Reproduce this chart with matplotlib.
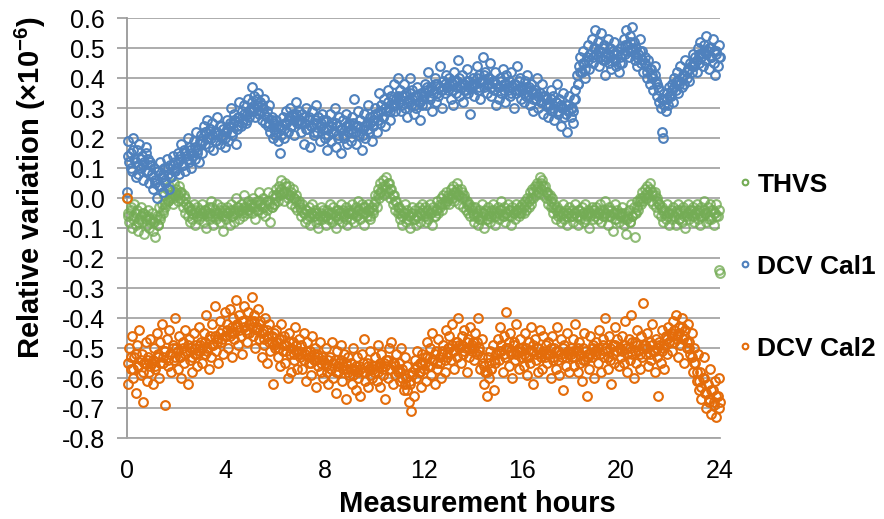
import numpy as np
import matplotlib
matplotlib.use("Agg")
import matplotlib.pyplot as plt

plt.rcParams["font.family"] = ["Liberation Sans", "DejaVu Sans"]
plt.rcParams["axes.unicode_minus"] = False
plt.rcParams["mathtext.fontset"] = "custom"
plt.rcParams["mathtext.rm"] = "Liberation Sans"
plt.rcParams["mathtext.bf"] = "Liberation Sans:bold"

# Mätvärden läses av ur bilden, 20 punkter per timme (en rad per timme)
dcv_cal1 = [
    0.02, 0.19, 0.12, 0.15, 0.09, 0.20, 0.13, 0.07, 0.16, 0.11, 0.18, 0.10, 0.14, 0.06, 0.12, 0.17, 0.09, 0.13, 0.05, 0.11,
    0.08, 0.03, 0.10, 0.06, 0.00, 0.09, 0.04, 0.12, 0.07, 0.02, 0.10, 0.05, 0.13, 0.08, 0.03, 0.11, 0.07, 0.14, 0.09, 0.12,
    0.10, 0.15, 0.08, 0.13, 0.18, 0.11, 0.16, 0.09, 0.14, 0.20, 0.12, 0.17, 0.10, 0.15, 0.19, 0.13, 0.22, 0.16, 0.12, 0.19,
    0.21, 0.15, 0.24, 0.18, 0.22, 0.26, 0.17, 0.23, 0.20, 0.25, 0.16, 0.22, 0.19, 0.27, 0.21, 0.18, 0.24, 0.20, 0.23, 0.17,
    0.22, 0.26, 0.19, 0.24, 0.30, 0.21, 0.25, 0.28, 0.18, 0.23, 0.27, 0.32, 0.24, 0.29, 0.26, 0.31, 0.25, 0.28, 0.33, 0.27,
    0.30, 0.37, 0.29, 0.34, 0.27, 0.31, 0.35, 0.28, 0.32, 0.26, 0.30, 0.33, 0.25, 0.29, 0.24, 0.31, 0.22, 0.27, 0.20, 0.25,
    0.21, 0.26, 0.19, 0.24, 0.15, 0.23, 0.27, 0.20, 0.25, 0.29, 0.22, 0.26, 0.30, 0.24, 0.28, 0.21, 0.27, 0.32, 0.25, 0.29,
    0.26, 0.22, 0.28, 0.18, 0.25, 0.30, 0.23, 0.27, 0.17, 0.24, 0.29, 0.21, 0.26, 0.31, 0.22, 0.27, 0.19, 0.25, 0.28, 0.23,
    0.20, 0.26, 0.16, 0.23, 0.28, 0.19, 0.25, 0.22, 0.30, 0.17, 0.24, 0.21, 0.27, 0.15, 0.23, 0.26, 0.20, 0.28, 0.18, 0.24,
    0.25, 0.19, 0.27, 0.22, 0.33, 0.18, 0.24, 0.29, 0.21, 0.26, 0.16, 0.23, 0.28, 0.20, 0.25, 0.31, 0.22, 0.27, 0.19, 0.24,
    0.26, 0.30, 0.22, 0.28, 0.35, 0.25, 0.31, 0.27, 0.33, 0.24, 0.29, 0.36, 0.30, 0.26, 0.34, 0.31, 0.38, 0.29, 0.33, 0.40,
    0.32, 0.36, 0.29, 0.34, 0.38, 0.30, 0.35, 0.27, 0.33, 0.40, 0.31, 0.36, 0.28, 0.34, 0.30, 0.37, 0.32, 0.26, 0.35, 0.31,
    0.34, 0.38, 0.31, 0.36, 0.42, 0.33, 0.37, 0.29, 0.35, 0.40, 0.32, 0.38, 0.34, 0.44, 0.36, 0.30, 0.39, 0.35, 0.41, 0.37,
    0.36, 0.40, 0.33, 0.38, 0.31, 0.42, 0.35, 0.39, 0.46, 0.34, 0.37, 0.41, 0.32, 0.38, 0.36, 0.43, 0.35, 0.39, 0.28, 0.37,
    0.40, 0.34, 0.38, 0.44, 0.36, 0.41, 0.33, 0.39, 0.47, 0.37, 0.42, 0.35, 0.40, 0.38, 0.45, 0.34, 0.39, 0.36, 0.42, 0.31,
    0.37, 0.33, 0.40, 0.35, 0.43, 0.38, 0.32, 0.41, 0.36, 0.39, 0.34, 0.42, 0.37, 0.30, 0.38, 0.35, 0.44, 0.36, 0.40, 0.33,
    0.36, 0.32, 0.39, 0.34, 0.41, 0.37, 0.31, 0.38, 0.35, 0.29, 0.36, 0.33, 0.40, 0.30, 0.35, 0.32, 0.38, 0.28, 0.34, 0.31,
    0.33, 0.27, 0.31, 0.36, 0.29, 0.34, 0.26, 0.32, 0.38, 0.28, 0.33, 0.24, 0.30, 0.35, 0.27, 0.31, 0.22, 0.29, 0.34, 0.27,
    0.30, 0.25, 0.33, 0.36, 0.41, 0.38, 0.44, 0.47, 0.42, 0.49, 0.45, 0.40, 0.47, 0.51, 0.43, 0.48, 0.53, 0.45, 0.50, 0.56,
    0.48, 0.52, 0.44, 0.49, 0.55, 0.46, 0.51, 0.41, 0.47, 0.53, 0.45, 0.50, 0.43, 0.48, 0.52, 0.46, 0.44, 0.49, 0.42, 0.47,
    0.50, 0.45, 0.53, 0.48, 0.56, 0.51, 0.47, 0.54, 0.49, 0.57, 0.52, 0.46, 0.50, 0.44, 0.48, 0.53, 0.45, 0.49, 0.42, 0.47,
    0.44, 0.40, 0.46, 0.38, 0.43, 0.41, 0.36, 0.44, 0.39, 0.34, 0.37, 0.32, 0.30, 0.22, 0.20, 0.33, 0.29, 0.35, 0.31, 0.37,
    0.34, 0.38, 0.32, 0.40, 0.36, 0.42, 0.35, 0.39, 0.44, 0.37, 0.41, 0.38, 0.46, 0.40, 0.43, 0.39, 0.45, 0.42, 0.48, 0.44,
    0.47, 0.42, 0.50, 0.45, 0.52, 0.48, 0.44, 0.51, 0.46, 0.54, 0.49, 0.43, 0.50, 0.47, 0.53, 0.45, 0.41, 0.49, 0.44, 0.51,
    0.47,
]

# Mellanliggande avläsningar, 10 per timme, närmare bandets mitt
dcv_cal1_mid = [
    0.14, 0.10, 0.16, 0.12, 0.08, 0.13, 0.11, 0.15, 0.09, 0.12,
    0.07, 0.05, 0.09, 0.04, 0.08, 0.06, 0.10, 0.07, 0.11, 0.09,
    0.12, 0.14, 0.11, 0.15, 0.13, 0.16, 0.14, 0.17, 0.15, 0.18,
    0.19, 0.22, 0.20, 0.23, 0.21, 0.19, 0.22, 0.24, 0.21, 0.20,
    0.23, 0.25, 0.22, 0.26, 0.24, 0.27, 0.25, 0.28, 0.26, 0.29,
    0.32, 0.30, 0.33, 0.29, 0.31, 0.28, 0.27, 0.25, 0.26, 0.23,
    0.22, 0.24, 0.21, 0.23, 0.25, 0.27, 0.24, 0.26, 0.28, 0.26,
    0.25, 0.27, 0.23, 0.26, 0.24, 0.22, 0.25, 0.27, 0.24, 0.26,
    0.23, 0.21, 0.24, 0.22, 0.25, 0.20, 0.23, 0.21, 0.24, 0.22,
    0.23, 0.25, 0.22, 0.24, 0.26, 0.21, 0.24, 0.23, 0.25, 0.26,
    0.28, 0.26, 0.29, 0.27, 0.30, 0.32, 0.29, 0.33, 0.31, 0.34,
    0.33, 0.31, 0.34, 0.32, 0.35, 0.33, 0.31, 0.34, 0.32, 0.33,
    0.35, 0.37, 0.34, 0.36, 0.38, 0.35, 0.37, 0.36, 0.38, 0.37,
    0.38, 0.36, 0.39, 0.37, 0.40, 0.38, 0.36, 0.39, 0.37, 0.38,
    0.38, 0.40, 0.37, 0.39, 0.41, 0.38, 0.40, 0.37, 0.39, 0.38,
    0.37, 0.39, 0.36, 0.38, 0.37, 0.35, 0.38, 0.36, 0.39, 0.37,
    0.35, 0.37, 0.34, 0.36, 0.33, 0.35, 0.34, 0.32, 0.34, 0.33,
    0.31, 0.33, 0.30, 0.32, 0.29, 0.31, 0.30, 0.28, 0.31, 0.30,
    0.29, 0.33, 0.38, 0.42, 0.45, 0.43, 0.46, 0.48, 0.47, 0.50,
    0.49, 0.47, 0.50, 0.46, 0.48, 0.47, 0.49, 0.46, 0.48, 0.45,
    0.48, 0.51, 0.49, 0.52, 0.50, 0.48, 0.47, 0.49, 0.46, 0.45,
    0.42, 0.43, 0.40, 0.41, 0.38, 0.36, 0.33, 0.31, 0.33, 0.34,
    0.36, 0.37, 0.39, 0.38, 0.40, 0.41, 0.42, 0.43, 0.44, 0.45,
    0.46, 0.48, 0.47, 0.49, 0.48, 0.50, 0.47, 0.49, 0.48, 0.47,
]

thvs = [
    0.00, -0.05, -0.08, -0.03, -0.10, -0.06, -0.02, -0.09, -0.04, -0.11, -0.07, -0.03, -0.08, -0.05, -0.12, -0.06, -0.09, -0.04, -0.10, -0.07,
    -0.05, -0.11, -0.08, -0.13, -0.06, -0.09, -0.03, -0.07, -0.02, -0.05, 0.01, -0.03, 0.03, -0.01, 0.04, 0.00, 0.02, -0.02, 0.05, 0.01,
    0.03, -0.01, 0.04, 0.00, 0.02, -0.03, 0.01, -0.05, -0.02, -0.06, -0.03, -0.08, -0.04, -0.07, -0.02, -0.09, -0.05, -0.03, -0.07, -0.04,
    -0.06, -0.02, -0.08, -0.04, -0.10, -0.05, -0.03, -0.07, -0.01, -0.06, -0.09, -0.04, -0.07, -0.02, -0.05, -0.08, -0.03, -0.06, -0.11, -0.04,
    -0.07, -0.03, -0.05, -0.09, -0.02, -0.06, -0.04, -0.08, 0.00, -0.05, -0.03, -0.07, -0.02, -0.04, -0.06, 0.01, -0.03, -0.05, -0.01, -0.04,
    -0.02, -0.05, 0.00, -0.03, -0.07, -0.01, -0.04, 0.02, -0.02, -0.05, 0.00, -0.03, -0.06, -0.01, 0.02, -0.02, -0.08, -0.03, 0.01, -0.02,
    0.00, 0.03, -0.01, 0.04, 0.01, 0.06, 0.02, -0.01, 0.05, 0.02, 0.00, 0.04, 0.01, -0.02, 0.03, 0.00, -0.03, 0.01, -0.04, -0.01,
    -0.03, -0.06, -0.02, -0.05, -0.08, -0.04, -0.07, -0.03, -0.09, -0.05, -0.02, -0.06, -0.04, -0.08, -0.05, -0.10, -0.06, -0.03, -0.07, -0.04,
    -0.06, -0.09, -0.04, -0.07, -0.02, -0.05, -0.08, -0.03, -0.06, -0.10, -0.04, -0.07, -0.05, -0.02, -0.08, -0.04, -0.06, -0.03, -0.09, -0.05,
    -0.04, -0.07, -0.02, -0.05, -0.08, -0.03, -0.06, -0.01, -0.04, -0.07, -0.02, -0.05, -0.09, -0.03, -0.06, -0.02, -0.04, -0.07, -0.03, -0.05,
    -0.02, 0.01, -0.03, 0.03, 0.00, 0.05, 0.02, 0.06, 0.01, 0.04, 0.07, 0.02, 0.05, 0.00, 0.03, -0.02, 0.01, -0.04, -0.01, -0.05,
    -0.03, -0.07, -0.04, -0.09, -0.05, -0.02, -0.08, -0.04, -0.06, -0.10, -0.05, -0.03, -0.07, -0.04, -0.09, -0.06, -0.03, -0.08, -0.05, -0.02,
    -0.06, -0.03, -0.08, -0.04, -0.07, -0.02, -0.05, -0.09, -0.03, -0.06, -0.04, -0.01, -0.05, -0.02, 0.00, -0.04, 0.01, -0.02, 0.02, -0.01,
    0.01, -0.02, 0.03, 0.00, 0.04, -0.01, 0.02, 0.05, 0.01, -0.02, 0.03, 0.00, -0.03, 0.01, -0.04, -0.01, -0.05, -0.02, -0.06, -0.03,
    -0.05, -0.08, -0.03, -0.06, -0.09, -0.04, -0.07, -0.02, -0.05, -0.10, -0.04, -0.07, -0.03, -0.06, -0.08, -0.04, -0.02, -0.06, -0.09, -0.05,
    -0.03, -0.07, -0.04, -0.01, -0.06, -0.03, -0.08, -0.05, -0.02, -0.06, -0.04, -0.09, -0.03, -0.05, -0.07, -0.02, -0.04, -0.06, -0.03, -0.05,
    -0.02, -0.05, -0.01, -0.04, 0.00, -0.03, 0.02, -0.02, 0.03, 0.00, 0.04, 0.01, 0.05, 0.02, 0.07, 0.03, 0.06, 0.01, 0.04, 0.00,
    0.02, -0.02, 0.01, -0.03, 0.00, -0.05, -0.02, -0.07, -0.03, -0.06, -0.04, -0.08, -0.05, -0.02, -0.07, -0.04, -0.09, -0.05, -0.03, -0.06,
    -0.04, -0.08, -0.05, -0.02, -0.06, -0.09, -0.04, -0.07, -0.03, -0.05, -0.08, -0.02, -0.06, -0.04, -0.10, -0.05, -0.03, -0.07, -0.04, -0.06,
    -0.03, -0.07, -0.05, -0.02, -0.08, -0.04, -0.06, -0.01, -0.05, -0.09, -0.03, -0.06, -0.04, -0.11, -0.05, -0.02, -0.07, -0.04, -0.08, -0.05,
    -0.06, -0.03, -0.09, -0.05, -0.12, -0.07, -0.04, -0.08, -0.02, -0.06, -0.03, -0.13, -0.05, -0.01, -0.04, 0.00, -0.02, 0.02, -0.01, 0.03,
    0.00, 0.04, 0.01, 0.05, -0.01, 0.02, -0.02, 0.01, -0.03, -0.01, -0.05, -0.02, -0.06, -0.03, -0.08, -0.04, -0.07, -0.02, -0.05, -0.09,
    -0.04, -0.07, -0.03, -0.06, -0.09, -0.05, -0.02, -0.07, -0.04, -0.08, -0.03, -0.06, -0.10, -0.05, -0.02, -0.07, -0.04, -0.06, -0.03, -0.08,
    -0.05, -0.02, -0.07, -0.04, -0.09, -0.03, -0.06, -0.01, -0.05, -0.08, -0.03, -0.06, -0.02, -0.07, -0.04, -0.09, -0.05, -0.02, -0.06, -0.24,
    -0.25,
]

thvs_mid = [
    -0.06, -0.04, -0.07, -0.05, -0.08, -0.06, -0.05, -0.07, -0.06, -0.08,
    -0.08, -0.07, -0.09, -0.06, -0.04, -0.02, -0.01, 0.01, 0.00, 0.02,
    0.01, 0.02, -0.01, 0.00, -0.03, -0.04, -0.05, -0.04, -0.06, -0.05,
    -0.05, -0.04, -0.06, -0.05, -0.03, -0.05, -0.06, -0.04, -0.05, -0.06,
    -0.05, -0.04, -0.06, -0.05, -0.03, -0.04, -0.05, -0.03, -0.04, -0.02,
    -0.03, -0.02, -0.04, -0.01, -0.03, -0.02, -0.04, -0.01, -0.03, -0.02,
    0.01, 0.02, 0.03, 0.02, 0.04, 0.01, 0.02, 0.00, -0.01, -0.02,
    -0.04, -0.05, -0.04, -0.06, -0.05, -0.06, -0.05, -0.07, -0.05, -0.06,
    -0.06, -0.05, -0.07, -0.05, -0.06, -0.04, -0.06, -0.05, -0.07, -0.05,
    -0.05, -0.04, -0.06, -0.04, -0.05, -0.03, -0.05, -0.04, -0.06, -0.04,
    -0.01, 0.01, 0.02, 0.04, 0.03, 0.05, 0.03, 0.01, -0.01, -0.03,
    -0.05, -0.06, -0.05, -0.07, -0.06, -0.05, -0.07, -0.06, -0.05, -0.04,
    -0.05, -0.06, -0.05, -0.04, -0.06, -0.04, -0.03, -0.02, -0.01, 0.00,
    0.00, 0.01, 0.02, 0.03, 0.01, 0.02, 0.00, -0.02, -0.03, -0.04,
    -0.06, -0.05, -0.07, -0.06, -0.05, -0.07, -0.05, -0.06, -0.04, -0.06,
    -0.05, -0.04, -0.06, -0.05, -0.04, -0.06, -0.05, -0.04, -0.05, -0.04,
    -0.03, -0.02, -0.01, 0.00, 0.02, 0.03, 0.04, 0.05, 0.04, 0.02,
    0.01, -0.01, -0.03, -0.04, -0.05, -0.06, -0.05, -0.06, -0.05, -0.06,
    -0.06, -0.05, -0.04, -0.06, -0.05, -0.07, -0.05, -0.06, -0.04, -0.05,
    -0.05, -0.04, -0.06, -0.05, -0.04, -0.06, -0.05, -0.07, -0.05, -0.06,
    -0.05, -0.07, -0.06, -0.08, -0.06, -0.05, -0.03, -0.01, 0.00, 0.01,
    0.02, 0.03, 0.01, 0.02, 0.00, -0.02, -0.04, -0.05, -0.06, -0.05,
    -0.05, -0.06, -0.04, -0.07, -0.05, -0.04, -0.06, -0.05, -0.04, -0.06,
    -0.04, -0.05, -0.06, -0.04, -0.05, -0.07, -0.04, -0.05, -0.06, -0.04,
]

dcv_cal2 = [
    0.00, -0.62, -0.50, -0.57, -0.46, -0.60, -0.53, -0.65, -0.49, -0.56, -0.44, -0.59, -0.52, -0.68, -0.55, -0.48, -0.61, -0.54, -0.58, -0.47,
    -0.55, -0.62, -0.50, -0.57, -0.45, -0.53, -0.60, -0.48, -0.42, -0.55, -0.51, -0.69, -0.47, -0.56, -0.44, -0.52, -0.58, -0.49, -0.54, -0.40,
    -0.50, -0.57, -0.46, -0.53, -0.60, -0.48, -0.55, -0.44, -0.51, -0.62, -0.47, -0.54, -0.50, -0.58, -0.45, -0.52, -0.49, -0.56, -0.43, -0.51,
    -0.48, -0.55, -0.45, -0.52, -0.39, -0.50, -0.57, -0.46, -0.53, -0.42, -0.49, -0.36, -0.51, -0.47, -0.55, -0.41, -0.48, -0.44, -0.52, -0.38,
    -0.46, -0.42, -0.50, -0.37, -0.45, -0.53, -0.40, -0.47, -0.34, -0.43, -0.49, -0.39, -0.46, -0.52, -0.41, -0.36, -0.44, -0.48, -0.38, -0.45,
    -0.41, -0.33, -0.46, -0.39, -0.50, -0.43, -0.37, -0.47, -0.41, -0.53, -0.44, -0.49, -0.40, -0.55, -0.46, -0.42, -0.51, -0.48, -0.62, -0.45,
    -0.50, -0.44, -0.53, -0.47, -0.56, -0.42, -0.51, -0.46, -0.55, -0.49, -0.60, -0.45, -0.52, -0.58, -0.48, -0.54, -0.43, -0.51, -0.57, -0.47,
    -0.53, -0.49, -0.57, -0.45, -0.52, -0.61, -0.48, -0.55, -0.51, -0.59, -0.46, -0.54, -0.50, -0.63, -0.52, -0.56, -0.48, -0.58, -0.53, -0.60,
    -0.55, -0.50, -0.58, -0.62, -0.53, -0.57, -0.48, -0.60, -0.54, -0.65, -0.51, -0.58, -0.55, -0.49, -0.61, -0.56, -0.52, -0.67, -0.57, -0.53,
    -0.59, -0.55, -0.62, -0.50, -0.57, -0.64, -0.53, -0.60, -0.56, -0.66, -0.52, -0.58, -0.47, -0.61, -0.55, -0.63, -0.57, -0.51, -0.60, -0.56,
    -0.58, -0.53, -0.61, -0.49, -0.56, -0.63, -0.52, -0.59, -0.55, -0.67, -0.54, -0.60, -0.50, -0.57, -0.48, -0.62, -0.55, -0.59, -0.52, -0.58,
    -0.55, -0.61, -0.50, -0.57, -0.64, -0.53, -0.60, -0.56, -0.68, -0.62, -0.71, -0.58, -0.66, -0.54, -0.60, -0.51, -0.58, -0.55, -0.63, -0.52,
    -0.57, -0.53, -0.61, -0.48, -0.56, -0.50, -0.59, -0.45, -0.54, -0.62, -0.51, -0.57, -0.47, -0.55, -0.60, -0.52, -0.49, -0.58, -0.44, -0.53,
    -0.50, -0.46, -0.54, -0.42, -0.51, -0.57, -0.48, -0.53, -0.40, -0.49, -0.55, -0.46, -0.52, -0.44, -0.50, -0.58, -0.47, -0.53, -0.43, -0.51,
    -0.48, -0.54, -0.45, -0.52, -0.40, -0.50, -0.57, -0.47, -0.55, -0.62, -0.58, -0.66, -0.53, -0.60, -0.51, -0.57, -0.49, -0.64, -0.55, -0.52,
    -0.47, -0.54, -0.43, -0.51, -0.58, -0.46, -0.53, -0.38, -0.50, -0.56, -0.45, -0.52, -0.60, -0.48, -0.54, -0.42, -0.51, -0.57, -0.47, -0.53,
    -0.50, -0.56, -0.45, -0.53, -0.59, -0.48, -0.55, -0.43, -0.51, -0.62, -0.47, -0.54, -0.50, -0.58, -0.44, -0.52, -0.57, -0.46, -0.53, -0.49,
    -0.55, -0.48, -0.52, -0.60, -0.46, -0.54, -0.50, -0.57, -0.43, -0.51, -0.59, -0.47, -0.53, -0.64, -0.49, -0.56, -0.45, -0.52, -0.58, -0.50,
    -0.53, -0.47, -0.56, -0.42, -0.51, -0.58, -0.48, -0.55, -0.61, -0.50, -0.45, -0.54, -0.66, -0.52, -0.57, -0.46, -0.53, -0.49, -0.60, -0.51,
    -0.48, -0.55, -0.44, -0.52, -0.58, -0.47, -0.53, -0.40, -0.50, -0.57, -0.46, -0.54, -0.62, -0.49, -0.55, -0.43, -0.51, -0.47, -0.56, -0.50,
    -0.53, -0.46, -0.55, -0.41, -0.50, -0.58, -0.47, -0.54, -0.39, -0.52, -0.60, -0.48, -0.55, -0.44, -0.51, -0.57, -0.46, -0.53, -0.35, -0.49,
    -0.52, -0.45, -0.56, -0.48, -0.54, -0.42, -0.51, -0.58, -0.47, -0.53, -0.66, -0.49, -0.55, -0.44, -0.50, -0.57, -0.46, -0.52, -0.43, -0.48,
    -0.45, -0.51, -0.41, -0.48, -0.39, -0.46, -0.53, -0.43, -0.49, -0.40, -0.47, -0.55, -0.44, -0.50, -0.42, -0.48, -0.52, -0.45, -0.58, -0.50,
    -0.55, -0.61, -0.52, -0.64, -0.58, -0.67, -0.60, -0.53, -0.65, -0.70, -0.62, -0.68, -0.57, -0.72, -0.64, -0.69, -0.61, -0.73, -0.66, -0.60,
    -0.68,
]

dcv_cal2_mid = [
    -0.55, -0.53, -0.57, -0.52, -0.56, -0.54, -0.58, -0.55, -0.53, -0.56,
    -0.54, -0.56, -0.52, -0.55, -0.53, -0.51, -0.54, -0.52, -0.50, -0.53,
    -0.51, -0.53, -0.50, -0.52, -0.49, -0.51, -0.53, -0.50, -0.52, -0.49,
    -0.50, -0.48, -0.51, -0.47, -0.49, -0.46, -0.48, -0.45, -0.47, -0.46,
    -0.44, -0.46, -0.43, -0.45, -0.42, -0.44, -0.41, -0.43, -0.45, -0.42,
    -0.43, -0.41, -0.44, -0.42, -0.45, -0.47, -0.44, -0.48, -0.46, -0.49,
    -0.48, -0.50, -0.47, -0.49, -0.51, -0.48, -0.50, -0.52, -0.49, -0.51,
    -0.52, -0.54, -0.51, -0.53, -0.55, -0.52, -0.54, -0.53, -0.55, -0.54,
    -0.56, -0.54, -0.57, -0.55, -0.58, -0.56, -0.54, -0.57, -0.55, -0.58,
    -0.57, -0.59, -0.56, -0.58, -0.57, -0.55, -0.58, -0.56, -0.59, -0.57,
    -0.56, -0.58, -0.55, -0.57, -0.56, -0.54, -0.57, -0.55, -0.56, -0.57,
    -0.58, -0.60, -0.62, -0.64, -0.61, -0.59, -0.57, -0.56, -0.58, -0.55,
    -0.55, -0.53, -0.56, -0.54, -0.52, -0.55, -0.53, -0.51, -0.54, -0.52,
    -0.50, -0.49, -0.51, -0.48, -0.50, -0.49, -0.51, -0.48, -0.50, -0.49,
    -0.50, -0.48, -0.51, -0.53, -0.56, -0.58, -0.55, -0.57, -0.54, -0.52,
    -0.51, -0.49, -0.52, -0.50, -0.48, -0.51, -0.49, -0.52, -0.50, -0.51,
    -0.52, -0.50, -0.53, -0.51, -0.49, -0.52, -0.50, -0.53, -0.51, -0.52,
    -0.52, -0.50, -0.53, -0.51, -0.54, -0.52, -0.50, -0.53, -0.51, -0.52,
    -0.51, -0.53, -0.50, -0.52, -0.54, -0.51, -0.53, -0.52, -0.50, -0.52,
    -0.50, -0.52, -0.49, -0.51, -0.53, -0.50, -0.52, -0.49, -0.51, -0.50,
    -0.51, -0.49, -0.52, -0.50, -0.48, -0.51, -0.49, -0.52, -0.50, -0.49,
    -0.50, -0.52, -0.49, -0.51, -0.50, -0.48, -0.51, -0.49, -0.47, -0.48,
    -0.46, -0.44, -0.47, -0.45, -0.43, -0.46, -0.48, -0.50, -0.53, -0.55,
    -0.58, -0.61, -0.63, -0.60, -0.65, -0.67, -0.64, -0.68, -0.66, -0.70,
]

series_names = ["THVS", "DCV Cal1", "DCV Cal2"]
series_values = [thvs, dcv_cal1, dcv_cal2]
series_mid_values = [thvs_mid, dcv_cal1_mid, dcv_cal2_mid]
series_colors = ["#74AC55", "#4F81BD", "#E46C0A"]
series_alpha = [0.8, 1.0, 1.0]

x_ticks = [0, 4, 8, 12, 16, 20, 24]
y_ticks = [-0.8, -0.7, -0.6, -0.5, -0.4, -0.3, -0.2, -0.1, 0.0, 0.1, 0.2, 0.3, 0.4, 0.5, 0.6]
y_labels = ["%.1f" % v for v in y_ticks]

fig = plt.figure(figsize=(8.84, 5.19), dpi=100)
ax = fig.add_axes([127 / 884, 1 - 438 / 519, (720 - 127) / 884, (438 - 18) / 519])

for name, values, mid, color, alpha in zip(series_names, series_values, series_mid_values,
                                            series_colors, series_alpha):
    # Tidpunkterna är jämnt fördelade över mätdygnet
    hours = np.linspace(0, 24, len(values))
    hours_mid = np.linspace(0.05, 23.95, len(mid))
    all_hours = np.concatenate([hours, hours_mid])
    all_values = np.concatenate([values, mid])
    ax.plot(all_hours, all_values, linestyle="none", marker="o", markersize=6.3,
            markerfacecolor="none", markeredgecolor=color, markeredgewidth=1.5,
            alpha=alpha, label=name, clip_on=False, zorder=3)

ax.set_xlim(0, 24)
ax.set_ylim(-0.8, 0.6)
ax.set_xticks(x_ticks)
ax.set_yticks(y_ticks)
ax.set_yticklabels(y_labels)
ax.tick_params(axis="x", length=0, pad=15, labelsize=18)
ax.tick_params(axis="y", length=7, width=1.2, color="#999999", pad=9, labelsize=18)

ax.grid(axis="y", color="#A6A6A6", linewidth=1.3, zorder=0)
ax.set_axisbelow(True)
for side in ["top", "right"]:
    ax.spines[side].set_visible(False)
ax.spines["left"].set_color("#999999")
ax.spines["left"].set_linewidth(1.3)
ax.spines["bottom"].set_color("#A6A6A6")
ax.spines["bottom"].set_linewidth(1.3)

fig.text(30 / 884, 1 - 188 / 519, r"Relative variation (×10$^{\mathbf{-6}}$)", rotation=90,
         ha="center", va="center", fontsize=21, fontweight="bold")
fig.text(477 / 884, 1 - 504 / 519, "Measurement hours", ha="center", va="center",
         fontsize=21, fontweight="bold")

leg = fig.legend(loc="upper left", bbox_to_anchor=(727 / 884, 1 - 162 / 519),
                 frameon=False, prop={"size": 19, "weight": "bold"},
                 handlelength=0.6, handletextpad=0.15, labelspacing=2.2,
                 markerscale=0.65, borderaxespad=0)
for h in leg.legend_handles:
    h.set_alpha(1.0)

fig.savefig("out.png", dpi=100)
